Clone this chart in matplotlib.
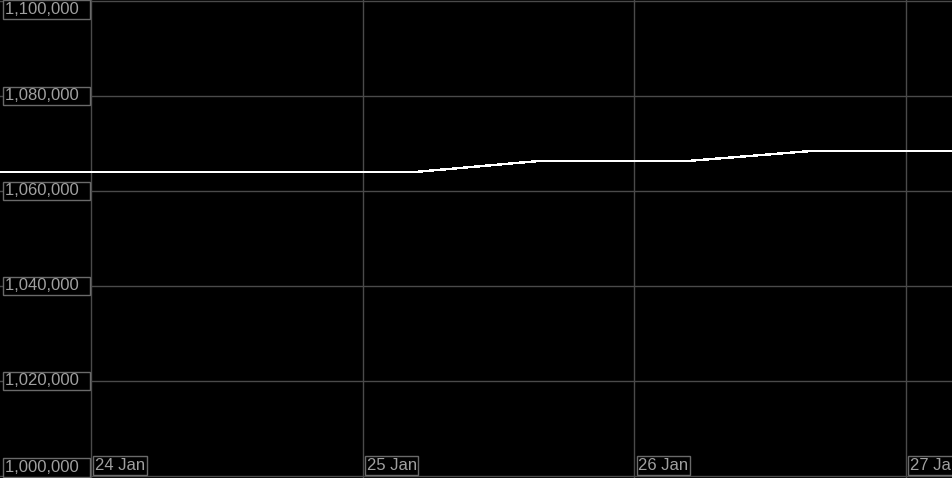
import matplotlib
matplotlib.use("Agg")
import matplotlib.pyplot as plt
import matplotlib.dates as mdates
from datetime import datetime

plt.rcParams['font.family'] = ['Liberation Sans', 'DejaVu Sans']

# data
times = [datetime(2024, 1, 23, 16, 0), datetime(2024, 1, 25, 4, 36), datetime(2024, 1, 25, 15, 30),
         datetime(2024, 1, 26, 4, 36), datetime(2024, 1, 26, 15, 30), datetime(2024, 1, 27, 4, 10)]
values = [1064000, 1064000, 1066300, 1066300, 1068400, 1068400]

day_ticks = [datetime(2024, 1, 24), datetime(2024, 1, 25), datetime(2024, 1, 26), datetime(2024, 1, 27)]
day_labels = ["24 Jan", "25 Jan", "26 Jan", "27 Jan"]
y_ticks = [1000000, 1020000, 1040000, 1060000, 1080000, 1100000]

grid_col = '#4a4a4a'
box_col = '#6a6a6a'
text_col = '#a0a0a0'

fig = plt.figure(figsize=(9.53, 4.78), dpi=100, facecolor='black')
ax = fig.add_axes([0, 0, 1, 1], facecolor='black')

px_day = 271.7
t0 = mdates.date2num(day_ticks[0])
ax.set_xlim(t0 - 91 / px_day, t0 + (953 - 91) / px_day)
ax.set_ylim(1000000 - 2 / 95 * 20000, 1100000 + 1 / 95 * 20000)

for d in day_ticks:
    ax.axvline(d, color=grid_col, lw=1, zorder=1)
for v in y_ticks:
    ax.axhline(v, color=grid_col, lw=1, zorder=1)

ax.plot(times, values, color='white', lw=1.0, zorder=3, antialiased=False)

for s in ax.spines.values():
    s.set_visible(False)
ax.set_xticks([])
ax.set_yticks([])

bbox = dict(boxstyle='square,pad=0.1', fc='black', ec=box_col, lw=1)
fs = 12

# y labels (trailing spaces widen the box like the reference)
for v in y_ticks:
    lab = f"{v:,}" + "  "
    if v == y_ticks[-1]:
        ax.annotate(lab, xy=(0, 1), xycoords='axes fraction', xytext=(5, -2),
                    textcoords='offset pixels', ha='left', va='top', color=text_col,
                    fontsize=fs, bbox=bbox, zorder=5)
    elif v == y_ticks[0]:
        ax.annotate(lab, xy=(0, 0), xycoords='axes fraction', xytext=(5, 3),
                    textcoords='offset pixels', ha='left', va='bottom', color=text_col,
                    fontsize=fs, bbox=bbox, zorder=5)
    else:
        ax.annotate(lab, xy=(0, v), xycoords=('axes fraction', 'data'), xytext=(5, 0),
                    textcoords='offset pixels', ha='left', va='center', color=text_col,
                    fontsize=fs, bbox=bbox, zorder=5)

# x labels
for d, lab in zip(day_ticks, day_labels):
    ax.annotate(lab, xy=(mdates.date2num(d), 0), xycoords=('data', 'axes fraction'),
                xytext=(4, 5), textcoords='offset pixels', ha='left', va='bottom',
                color=text_col, fontsize=fs, bbox=bbox, zorder=5)

fig.savefig('out.png', dpi=100, facecolor='black')
